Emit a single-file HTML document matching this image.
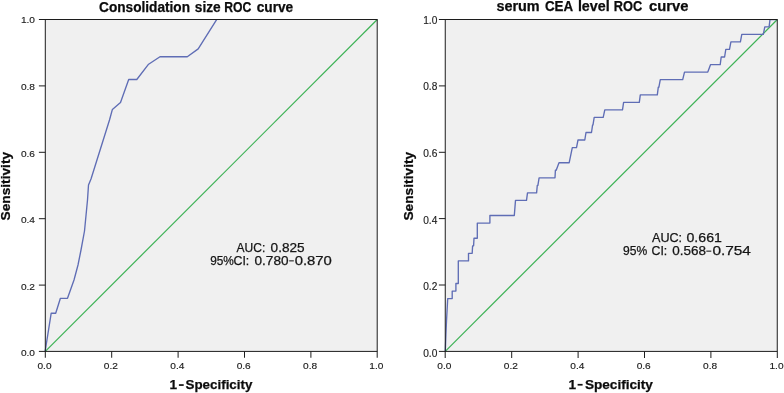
<!DOCTYPE html>
<html><head><meta charset="utf-8"><title>ROC curves</title>
<style>
html,body{margin:0;padding:0;background:#fff;}
body{width:784px;height:393px;overflow:hidden;font-family:"Liberation Sans",sans-serif;}
svg{display:block;will-change:transform;}
text{font-family:"Liberation Sans",sans-serif;}
.tk{font-size:9.6px;fill:#1c1c1c;stroke:#1c1c1c;stroke-width:0.15px;}
.ttl{font-size:13.8px;font-weight:bold;fill:#0c0c0c;stroke:#0c0c0c;stroke-width:0.25px;}
.axl{font-size:13px;font-weight:bold;fill:#0c0c0c;stroke:#0c0c0c;stroke-width:0.25px;}
.ann{font-size:12.4px;fill:#151515;stroke:#151515;stroke-width:0.25px;}
</style></head><body>
<svg width="784" height="393" viewBox="0 0 784 393">
<rect x="0" y="0" width="784" height="393" fill="#ffffff"/>

<rect x="45.3" y="19.5" width="331.9" height="331.9" fill="#f0f0f0"/>
<line x1="45.3" y1="351.45" x2="377.25" y2="19.5" stroke="#3db255" stroke-width="1.2"/>
<polyline points="45.2,351.0 51.2,313.2 55.7,313.2 60.4,298.3 67.5,298.3 74.0,280.0 78.0,265.0 81.0,250.0 84.5,231.0 87.5,200.0 88.5,185.0 91.0,179.0 109.5,120.0 112.4,109.4 120.5,102.5 128.7,79.5 136.8,79.5 148.6,64.2 160.0,56.7 187.3,56.7 198.2,48.9 216.8,19.4" fill="none" stroke="#5f6db5" stroke-width="1.35" stroke-linejoin="round"/>
<rect x="45.3" y="19.5" width="331.9" height="331.9" fill="none" stroke="#1c1c1c" stroke-width="1"/>
<line x1="38.9" y1="351.4" x2="45.3" y2="351.4" stroke="#1c1c1c" stroke-width="1"/>
<line x1="45.3" y1="351.45" x2="45.3" y2="357.75" stroke="#1c1c1c" stroke-width="1"/>
<text class="tk" style="font-size:9.9px" x="35.0" y="356.4" text-anchor="end" textLength="14.1" lengthAdjust="spacingAndGlyphs">0.0</text>
<text class="tk" x="44.5" y="369.1" text-anchor="middle" textLength="14.1" lengthAdjust="spacingAndGlyphs">0.0</text>
<line x1="38.9" y1="285.1" x2="45.3" y2="285.1" stroke="#1c1c1c" stroke-width="1"/>
<line x1="111.7" y1="351.45" x2="111.7" y2="357.75" stroke="#1c1c1c" stroke-width="1"/>
<text class="tk" style="font-size:9.9px" x="35.0" y="289.7" text-anchor="end" textLength="14.1" lengthAdjust="spacingAndGlyphs">0.2</text>
<text class="tk" x="110.9" y="369.1" text-anchor="middle" textLength="14.1" lengthAdjust="spacingAndGlyphs">0.2</text>
<line x1="38.9" y1="218.7" x2="45.3" y2="218.7" stroke="#1c1c1c" stroke-width="1"/>
<line x1="178.1" y1="351.45" x2="178.1" y2="357.75" stroke="#1c1c1c" stroke-width="1"/>
<text class="tk" style="font-size:9.9px" x="35.0" y="223.1" text-anchor="end" textLength="14.1" lengthAdjust="spacingAndGlyphs">0.4</text>
<text class="tk" x="177.3" y="369.1" text-anchor="middle" textLength="14.1" lengthAdjust="spacingAndGlyphs">0.4</text>
<line x1="38.9" y1="152.3" x2="45.3" y2="152.3" stroke="#1c1c1c" stroke-width="1"/>
<line x1="244.5" y1="351.45" x2="244.5" y2="357.75" stroke="#1c1c1c" stroke-width="1"/>
<text class="tk" style="font-size:9.9px" x="35.0" y="156.5" text-anchor="end" textLength="14.1" lengthAdjust="spacingAndGlyphs">0.6</text>
<text class="tk" x="243.7" y="369.1" text-anchor="middle" textLength="14.1" lengthAdjust="spacingAndGlyphs">0.6</text>
<line x1="38.9" y1="85.9" x2="45.3" y2="85.9" stroke="#1c1c1c" stroke-width="1"/>
<line x1="310.9" y1="351.45" x2="310.9" y2="357.75" stroke="#1c1c1c" stroke-width="1"/>
<text class="tk" style="font-size:9.9px" x="35.0" y="89.9" text-anchor="end" textLength="14.1" lengthAdjust="spacingAndGlyphs">0.8</text>
<text class="tk" x="310.1" y="369.1" text-anchor="middle" textLength="14.1" lengthAdjust="spacingAndGlyphs">0.8</text>
<line x1="38.9" y1="19.5" x2="45.3" y2="19.5" stroke="#1c1c1c" stroke-width="1"/>
<line x1="377.2" y1="351.45" x2="377.2" y2="357.75" stroke="#1c1c1c" stroke-width="1"/>
<text class="tk" style="font-size:9.9px" x="35.0" y="23.3" text-anchor="end" textLength="14.1" lengthAdjust="spacingAndGlyphs">1.0</text>
<text class="tk" x="376.4" y="369.1" text-anchor="middle" textLength="14.1" lengthAdjust="spacingAndGlyphs">1.0</text>
<rect x="445.25" y="19.5" width="332.0" height="331.9" fill="#f0f0f0"/>
<line x1="445.25" y1="351.4" x2="777.3" y2="19.5" stroke="#3db255" stroke-width="1.2"/>
<polyline points="445.3,351.0 445.9,335.0 446.5,321.0 447.7,298.6 452.2,298.6 452.2,291.1 455.9,291.1 455.9,283.5 458.3,283.5 458.3,260.9 468.5,260.9 468.5,253.3 472.2,253.3 472.6,245.8 473.6,245.8 474.0,238.2 477.3,238.2 477.3,223.1 489.9,223.1 489.9,215.5 514.3,215.5 515.5,200.4 526.5,200.4 527.5,192.9 536.6,192.9 537.3,185.3 537.9,185.3 539.1,177.8 555.0,177.8 555.4,170.2 556.2,170.2 559.0,162.7 569.2,162.7 572.3,147.6 576.5,147.6 578.0,140.0 584.8,140.0 586.0,132.5 591.5,132.5 592.6,124.9 593.0,124.9 594.2,117.4 603.2,117.4 604.8,109.8 622.5,109.8 623.6,102.3 639.3,102.3 640.3,94.8 657.3,94.8 658.3,87.2 658.9,87.2 660.3,79.6 682.7,79.6 684.5,72.1 707.8,72.1 710.6,64.6 720.2,64.6 721.2,57.0 724.6,57.0 725.8,49.4 729.5,49.4 730.9,41.9 740.4,41.9 741.8,34.4 763.3,34.4 764.8,26.8 769.1,26.8 770.0,19.6 777.0,19.6" fill="none" stroke="#5f6db5" stroke-width="1.35" stroke-linejoin="round"/>
<rect x="445.25" y="19.5" width="332.0" height="331.9" fill="none" stroke="#1c1c1c" stroke-width="1"/>
<line x1="438.9" y1="351.4" x2="445.25" y2="351.4" stroke="#1c1c1c" stroke-width="1"/>
<line x1="445.2" y1="351.4" x2="445.2" y2="358.0" stroke="#1c1c1c" stroke-width="1"/>
<text class="tk" style="font-size:10.3px" x="437.3" y="356.7" text-anchor="end" textLength="14.1" lengthAdjust="spacingAndGlyphs">0.0</text>
<text class="tk" x="444.4" y="368.6" text-anchor="middle" textLength="14.1" lengthAdjust="spacingAndGlyphs">0.0</text>
<line x1="438.9" y1="285.0" x2="445.25" y2="285.0" stroke="#1c1c1c" stroke-width="1"/>
<line x1="511.7" y1="351.4" x2="511.7" y2="358.0" stroke="#1c1c1c" stroke-width="1"/>
<text class="tk" style="font-size:10.3px" x="437.3" y="290.1" text-anchor="end" textLength="14.1" lengthAdjust="spacingAndGlyphs">0.2</text>
<text class="tk" x="510.9" y="368.6" text-anchor="middle" textLength="14.1" lengthAdjust="spacingAndGlyphs">0.2</text>
<line x1="438.9" y1="218.6" x2="445.25" y2="218.6" stroke="#1c1c1c" stroke-width="1"/>
<line x1="578.1" y1="351.4" x2="578.1" y2="358.0" stroke="#1c1c1c" stroke-width="1"/>
<text class="tk" style="font-size:10.3px" x="437.3" y="223.5" text-anchor="end" textLength="14.1" lengthAdjust="spacingAndGlyphs">0.4</text>
<text class="tk" x="577.3" y="368.6" text-anchor="middle" textLength="14.1" lengthAdjust="spacingAndGlyphs">0.4</text>
<line x1="438.9" y1="152.3" x2="445.25" y2="152.3" stroke="#1c1c1c" stroke-width="1"/>
<line x1="644.5" y1="351.4" x2="644.5" y2="358.0" stroke="#1c1c1c" stroke-width="1"/>
<text class="tk" style="font-size:10.3px" x="437.3" y="157.0" text-anchor="end" textLength="14.1" lengthAdjust="spacingAndGlyphs">0.6</text>
<text class="tk" x="643.7" y="368.6" text-anchor="middle" textLength="14.1" lengthAdjust="spacingAndGlyphs">0.6</text>
<line x1="438.9" y1="85.9" x2="445.25" y2="85.9" stroke="#1c1c1c" stroke-width="1"/>
<line x1="710.9" y1="351.4" x2="710.9" y2="358.0" stroke="#1c1c1c" stroke-width="1"/>
<text class="tk" style="font-size:10.3px" x="437.3" y="90.4" text-anchor="end" textLength="14.1" lengthAdjust="spacingAndGlyphs">0.8</text>
<text class="tk" x="710.1" y="368.6" text-anchor="middle" textLength="14.1" lengthAdjust="spacingAndGlyphs">0.8</text>
<line x1="438.9" y1="19.5" x2="445.25" y2="19.5" stroke="#1c1c1c" stroke-width="1"/>
<line x1="777.3" y1="351.4" x2="777.3" y2="358.0" stroke="#1c1c1c" stroke-width="1"/>
<text class="tk" style="font-size:10.3px" x="437.3" y="23.8" text-anchor="end" textLength="14.1" lengthAdjust="spacingAndGlyphs">1.0</text>
<text class="tk" x="776.5" y="368.6" text-anchor="middle" textLength="14.1" lengthAdjust="spacingAndGlyphs">1.0</text>
<text class="ttl" x="99.1" y="12.2" textLength="90.9" lengthAdjust="spacingAndGlyphs">Consolidation</text>
<text class="ttl" x="194.8" y="12.2" textLength="25.9" lengthAdjust="spacingAndGlyphs">size</text>
<text class="ttl" x="224.2" y="12.2" textLength="27.1" lengthAdjust="spacingAndGlyphs">ROC</text>
<text class="ttl" x="256.7" y="12.2" textLength="36.5" lengthAdjust="spacingAndGlyphs">curve</text>
<text class="ttl" x="496.4" y="11.4" textLength="43.3" lengthAdjust="spacingAndGlyphs">serum</text>
<text class="ttl" x="544.9" y="11.4" textLength="28.2" lengthAdjust="spacingAndGlyphs">CEA</text>
<text class="ttl" x="577.9" y="11.4" textLength="31.7" lengthAdjust="spacingAndGlyphs">level</text>
<text class="ttl" x="613.8" y="11.4" textLength="28.4" lengthAdjust="spacingAndGlyphs">ROC</text>
<text class="ttl" x="649.0" y="11.4" textLength="39.4" lengthAdjust="spacingAndGlyphs">curve</text>
<text class="axl" x="169.5" y="389.1" textLength="7.6" lengthAdjust="spacingAndGlyphs">1</text><rect x="178.9" y="384.2" width="4.8" height="1.7" fill="#111"/><text class="axl" x="185.5" y="389.1" textLength="66.9" lengthAdjust="spacingAndGlyphs">Specificity</text>
<text class="axl" x="568.6" y="388.8" textLength="7.6" lengthAdjust="spacingAndGlyphs">1</text><rect x="577.6" y="383.9" width="5.0" height="1.7" fill="#111"/><text class="axl" x="584.9" y="388.8" textLength="68.0" lengthAdjust="spacingAndGlyphs">Specificity</text>
<text class="axl" style="font-size:12.4px" transform="translate(10.3,220.5) rotate(-90)" textLength="68.6" lengthAdjust="spacingAndGlyphs">Sensitivity</text>
<text class="axl" transform="translate(412.8,220.6) rotate(-90)" textLength="68.8" lengthAdjust="spacingAndGlyphs">Sensitivity</text>
<text class="ann" x="236.6" y="251.8" textLength="28.7" lengthAdjust="spacingAndGlyphs">AUC:</text>
<text class="ann" x="270.6" y="251.8" textLength="34.0" lengthAdjust="spacingAndGlyphs">0.825</text>
<text class="ann" x="210.2" y="264.8" textLength="23.7" lengthAdjust="spacingAndGlyphs">95%</text>
<text class="ann" x="233.5" y="264.8" textLength="15.8" lengthAdjust="spacingAndGlyphs">CI:</text>
<text class="ann" x="254.5" y="264.8" textLength="34.0" lengthAdjust="spacingAndGlyphs">0.780</text>
<text class="ann" x="294.7" y="264.8" textLength="37.2" lengthAdjust="spacingAndGlyphs">0.870</text>
<text class="ann" x="652.0" y="241.9" textLength="30.1" lengthAdjust="spacingAndGlyphs">AUC:</text>
<text class="ann" x="686.5" y="241.9" textLength="35.4" lengthAdjust="spacingAndGlyphs">0.661</text>
<text class="ann" x="623.1" y="255.1" textLength="24.2" lengthAdjust="spacingAndGlyphs">95%</text>
<text class="ann" x="651.6" y="255.1" textLength="15.7" lengthAdjust="spacingAndGlyphs">CI:</text>
<text class="ann" x="672.2" y="255.1" textLength="33.7" lengthAdjust="spacingAndGlyphs">0.568</text>
<text class="ann" x="712.4" y="255.1" textLength="38.5" lengthAdjust="spacingAndGlyphs">0.754</text>
<rect x="289.2" y="260.3" width="4.6" height="1.1" fill="#222"/>
<rect x="706.3" y="250.6" width="5.0" height="1.1" fill="#222"/>
</svg></body></html>
